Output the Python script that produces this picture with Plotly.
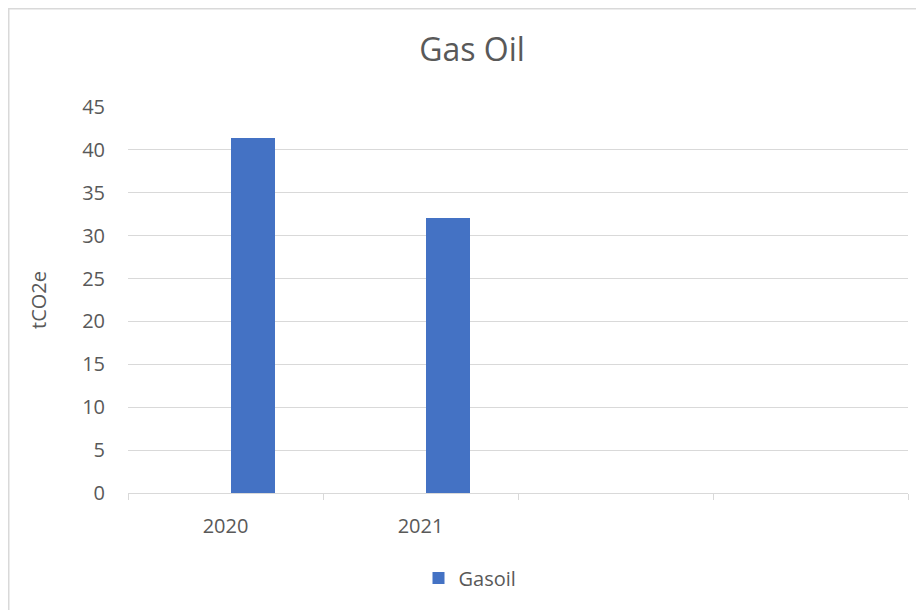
import plotly.graph_objects as go

# ---- data ----
categories = ["2020", "2021", " ", "  "]
gasoil_values = [41.4, 32.05, None, None]
series_name = "Gasoil"
title_text = "Gas Oil"
y_title = "tCO2e"
y_ticks = [0, 5, 10, 15, 20, 25, 30, 35, 40, 45]

# page body has an 8px margin; figure sized to fit the window
OFF = 8
W, H = 916, 602
L, R, T, B = 120, 16, 99, 117
pw = W - L - R
ph = H - T - B

def px_x(x):
    return (x - OFF - L) / pw

def px_y(y):
    return (H - B - (y - OFF)) / ph

grey = "#595959"
grid = "#d9d9d9"
font_family = "Open Sans, DejaVu Sans, sans-serif"

fig = go.Figure()
fig.add_trace(go.Bar(
    x=categories,
    y=gasoil_values,
    name=series_name,
    marker=dict(color="#4472C4", line=dict(width=0)),
    offset=0.03,
    width=0.222,
    showlegend=True,
))

fig.update_layout(
    width=W, height=H,
    margin=dict(l=L, r=R, t=T, b=B, autoexpand=False),
    paper_bgcolor="white",
    plot_bgcolor="white",
    font=dict(family=font_family, color=grey, size=20),
    title=dict(
        text=title_text,
        font=dict(size=32, color=grey, family=font_family),
        x=(472 - OFF) / W, xref="container", xanchor="center",
        y=1 - (50 - OFF) / H, yref="container", yanchor="middle",
    ),
    xaxis=dict(
        type="category",
        categoryorder="array",
        categoryarray=categories,
        range=[-0.5, len(categories) - 0.5],
        tickson="boundaries",
        ticks="outside",
        ticklen=6,
        tickcolor=grid,
        tickwidth=1,
        showline=True,
        linecolor=grid,
        linewidth=1,
        showgrid=False,
        zeroline=False,
        tickfont=dict(size=20, color=grey),
        ticklabelstandoff=15,
        fixedrange=True,
    ),
    yaxis=dict(
        range=[0, 45],
        tickvals=y_ticks,
        showgrid=True,
        gridcolor=grid,
        gridwidth=1,
        zeroline=False,
        showline=False,
        ticks="",
        tickfont=dict(size=20, color=grey),
        ticklabelstandoff=22,
        title=dict(text=y_title, font=dict(size=20, color=grey), standoff=30),
    ),
    legend=dict(
        orientation="h",
        x=(470 - OFF) / W, xref="container", xanchor="center",
        y=1 - (578 - OFF) / H, yref="container", yanchor="middle",
        font=dict(size=20, color=grey),
        itemwidth=30,
        bgcolor="rgba(0,0,0,0)",
    ),
    bargap=0,
    shapes=[
        dict(
            type="rect", xref="paper", yref="paper",
            x0=px_x(8.75), x1=px_x(940), y0=px_y(8.75), y1=px_y(640),
            line=dict(color=grid, width=1.5), fillcolor="rgba(0,0,0,0)",
            layer="below",
        )
    ],
)

fig.write_html("out.html")
